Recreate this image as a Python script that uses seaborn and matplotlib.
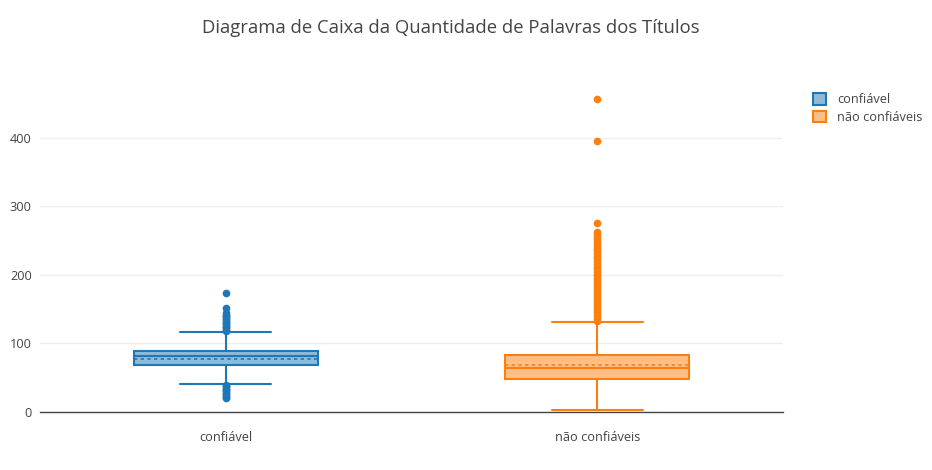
import matplotlib
matplotlib.use("Agg")
import matplotlib.pyplot as plt
from matplotlib.colors import to_rgba
from matplotlib.patches import Patch
import seaborn as sns

# DATA
categories = ["confiável", "não confiáveis"]
colors = ["#1f77b4", "#ff7f0e"]

whisker_low = [41, 3]
q1 = [69, 48]
median = [81, 64]
mean = [77, 68]
q3 = [89, 83]
whisker_high = [116, 131]

outliers_conf = [20, 22, 24, 26, 28, 30, 32, 34, 36, 38, 40,
                 118, 120, 122, 124, 126, 128, 130, 132, 134, 136, 138,
                 140, 142, 144, 152, 174]
outliers_nao = [133, 136, 140, 144, 148, 152, 156, 160, 164, 168, 172,
                176, 180, 184, 188, 192, 196, 200, 204, 208, 212, 216,
                220, 224, 228, 232, 236, 240, 244, 248, 252, 256, 260,
                263, 276, 395, 456]
outliers = [outliers_conf, outliers_nao]

y_ticks = [0, 100, 200, 300, 400]

# STYLE
sns.set_theme(style="white")
plt.rcParams["font.family"] = ["Open Sans", "DejaVu Sans"]

fig = plt.figure(figsize=(9.32, 4.70), dpi=100)
ax = fig.add_axes([40 / 932, 58 / 470, 743 / 932, 342 / 470])

# BOXES (precomputed stats, drawn on the axes scales)
for i, name in enumerate(categories):
    c = colors[i]
    s = {"label": name, "whislo": whisker_low[i], "q1": q1[i], "med": median[i],
         "mean": mean[i], "q3": q3[i], "whishi": whisker_high[i],
         "fliers": outliers[i]}
    ax.bxp([s], positions=[i], widths=0.495, capwidths=0.245,
           patch_artist=True, showmeans=True, meanline=True,
           boxprops=dict(facecolor=to_rgba(c, 0.5), edgecolor=c, linewidth=1.5),
           medianprops=dict(color=c, linewidth=1.5),
           meanprops=dict(color=c, linewidth=1.2, linestyle=(0, (2, 2))),
           whiskerprops=dict(color=c, linewidth=1.5),
           capprops=dict(color=c, linewidth=1.5),
           flierprops=dict(marker="o", markerfacecolor=c, markeredgecolor=c,
                           markersize=4.5, linestyle="none"),
           zorder=3)

ax.set_xlim(-0.5, 1.5)
ax.set_ylim(0, 499)
ax.set_yticks(y_ticks)
ax.set_xticks([0, 1])
ax.set_xticklabels(categories)
ax.tick_params(axis="both", length=0, labelsize=9.2, colors="#444444")
ax.tick_params(axis="x", pad=14)
ax.tick_params(axis="y", pad=6)
ax.yaxis.grid(True, color="#eeeeee", linewidth=1, zorder=0)
ax.set_axisbelow(True)
for side in ["top", "right", "left"]:
    ax.spines[side].set_visible(False)
ax.spines["bottom"].set_color("#444444")
ax.spines["bottom"].set_linewidth(1)

fig.text(451 / 932, 1 - 28 / 470, "Diagrama de Caixa da Quantidade de Palavras dos Títulos",
         ha="center", va="center", fontsize=13.3, color="#444444")

handles = [Patch(facecolor=to_rgba(c, 0.5), edgecolor=c, linewidth=1.5) for c in colors]
fig.legend(handles, categories, loc="upper left", bbox_to_anchor=(808 / 932, 1 - 88 / 470),
           frameon=False, fontsize=9.2, labelcolor="#444444", handlelength=1.0,
           handleheight=1.0, handletextpad=0.9, labelspacing=0.35, borderaxespad=0)

fig.savefig("out.png", dpi=100, facecolor="white")
